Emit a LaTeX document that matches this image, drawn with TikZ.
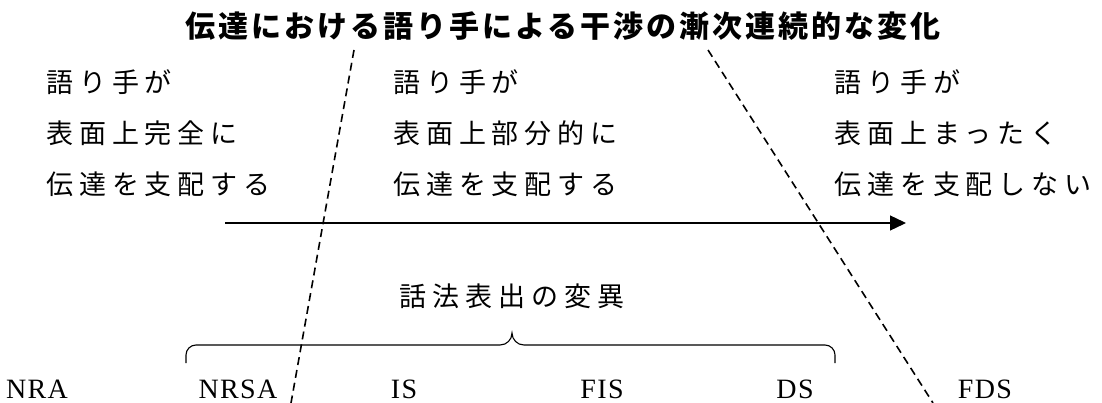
\documentclass[tikz,border=0pt]{standalone}
\usepackage{fontspec}
\setmainfont{Liberation Serif}
\newfontfamily\jp[LetterSpace=22]{Noto Sans CJK JP}
\newfontfamily\jpt[LetterSpace=10]{Noto Sans CJK JP}
\newfontfamily\lat[LetterSpace=5]{Liberation Serif}
\usetikzlibrary{arrows.meta}
\tikzset{
  coltext/.style={anchor=west, inner sep=0pt, font=\jp\fontsize{27}{27}\selectfont},
  titletext/.style={anchor=center, inner sep=0pt, font=\jpt\bfseries\fontsize{30}{30}\selectfont},
  sublabel/.style={anchor=center, inner sep=0pt, font=\jp\fontsize{27}{27}\selectfont},
  abbr/.style={anchor=base, inner sep=0pt, font=\lat\fontsize{28}{28}\selectfont},
  divider/.style={line width=1.6pt, dash pattern=on 8pt off 5pt},
  mainarrow/.style={line width=1.3pt, -{Triangle[length=16pt,width=15pt]}},
  bracket/.style={line width=1.1pt}
}
\begin{document}
\begin{tikzpicture}[x=1pt,y=-1pt]
\useasboundingbox (0,0) rectangle (1102,403);
% title
\node[titletext] (title) at (563,26) {伝達における語り手による干渉の漸次連続的な変化};
% column 1
\node[coltext] (a1) at (46,82) {語り手が};
\node[coltext] (a2) at (46,133) {表面上完全に};
\node[coltext] (a3) at (46,184) {伝達を支配する};
% column 2
\node[coltext] (b1) at (393,82) {語り手が};
\node[coltext] (b2) at (393,133) {表面上部分的に};
\node[coltext] (b3) at (393,184) {伝達を支配する};
% column 3
\node[coltext] (c1) at (834,82) {語り手が};
\node[coltext] (c2) at (834,133) {表面上まったく};
\node[coltext] (c3) at (834,184) {伝達を支配しない};
% arrow
\coordinate (arrS) at (225,223);
\coordinate (arrE) at (906,223);
\draw[mainarrow] (arrS) -- (arrE);
% dashed dividers
\coordinate (d1t) at (354,50);
\coordinate (d1b) at (291,403);
\coordinate (d2t) at (708,50);
\coordinate (d2b) at (933,403);
\draw[divider] (d1t) -- (d1b);
\draw[divider] (d2t) -- (d2b);
% sublabel and bracket
\node[sublabel] (var) at (512,296) {話法表出の変異};
\coordinate (brL) at (186,363);
\coordinate (brR) at (835,363);
\coordinate (brM) at (512,333);
\draw[bracket] (brL) -- ++(0,-8) to[out=90,in=180] (196,345) -- (500,345)
  to[out=0,in=-90] (brM) to[out=-90,in=180] (524,345) -- (825,345)
  to[out=0,in=90] (835,355) -- (brR);
% abbreviations
\node[abbr] (nra) at (37,398) {NRA};
\node[abbr] (nrsa) at (238,398) {NRSA};
\node[abbr] (is) at (404,398) {IS};
\node[abbr] (fis) at (602,398) {FIS};
\node[abbr] (ds) at (795,398) {DS};
\node[abbr] (fds) at (985,398) {FDS};
\end{tikzpicture}
\end{document}
